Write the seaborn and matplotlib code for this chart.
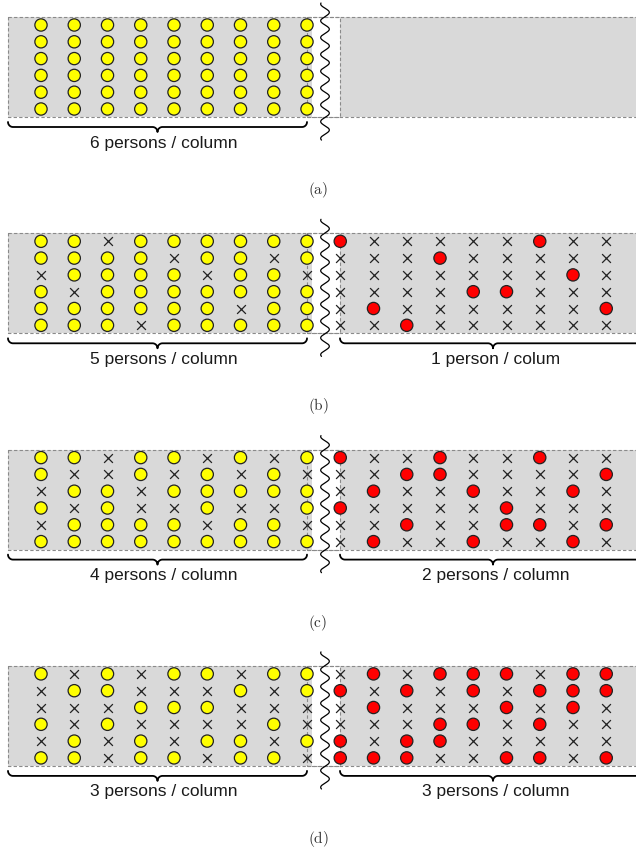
import numpy as np
import pandas as pd
import matplotlib
matplotlib.use("Agg")
import matplotlib.pyplot as plt
import seaborn as sns

sns.set_theme(style="white")
plt.rcParams['font.family'] = ['Liberation Sans', 'DejaVu Sans']
plt.rcParams['mathtext.fontset'] = 'cm'

# ---- data: 'o' = person present, 'x' = absent; rows top->bottom, 9 columns each
panel_labels = ["(a)", "(b)", "(c)", "(d)"]
left_texts = ["6 persons / column", "5 persons / column", "4 persons / column", "3 persons / column"]
right_texts = ["", "1 person / colum", "2 persons / column", "3 persons / column"]

left_a = ["ooooooooo", "ooooooooo", "ooooooooo", "ooooooooo", "ooooooooo", "ooooooooo"]
right_a = ["", "", "", "", "", ""]

left_b = ["ooxoooooo", "ooooxooxo", "xooooxoox", "oxooooooo", "ooooooxoo", "oooxooooo"]
right_b = ["oxxxxxoxx", "xxxoxxxxx", "xxxxxxxox", "xxxxooxxx", "xoxxxxxxo", "xxoxxxxxx"]

left_c = ["ooxooxoxo", "oxxoxoxox", "xooxooooo", "oxoxxoxxo", "xoooox oox".replace(" ", ""), "ooooooooo"]
right_c = ["oxxoxxoxx", "xxooxxxxo", "xoxxoxxox", "oxxxxoxxx", "xxoxxooxo", "xoxxoxxox"]

left_d = ["oxoxooxoo", "xooxxxoxo", "xxxoooxxx", "oxoxxxxox", "xoxoxooxo", "ooxooxoox"]
right_d = ["xoxoooxoo", "oxoxoxooo", "xoxxxoxox", "xxxooxoxx", "oxooxxxxx", "oooxxooxo"]

lefts = [left_a, left_b, left_c, left_d]
rights = [right_a, right_b, right_c, right_d]

# ---- geometry (layout, in grid units)
W, H, DPI = 636, 860, 100
col_px, row_px = 33.25, 16.8
x0_px, y0_px = 41, 25
panel_step = 216.3 / row_px  # rows between panel tops


def px2x(p):
    return (p - x0_px) / col_px


def px2y(p):
    return (p - y0_px) / row_px


records = []
for p, (L, R) in enumerate(zip(lefts, rights)):
    for r in range(6):
        for c, ch in enumerate(L[r]):
            records.append(dict(col=c, row=p * panel_step + r,
                                kind="yellow" if ch == "o" else "cross"))
        for c, ch in enumerate(R[r]):
            records.append(dict(col=9 + c, row=p * panel_step + r,
                                kind="red" if ch == "o" else "cross"))
df = pd.DataFrame(records)

fig = plt.figure(figsize=(W / DPI, H / DPI), dpi=DPI)
ax = fig.add_axes([0, 0, 1, 1])
ax.set_xlim(px2x(0), px2x(W))
ax.set_ylim(px2y(H), px2y(0))
ax.axis("off")


def brace(xa, xb, ytop_px):
    r = 5.0
    xc = (xa + xb) / 2
    ym = ytop_px + r
    t = np.linspace(0, np.pi / 2, 20)
    px, py = [], []
    px += list(xa + r - r * np.cos(t)); py += list(ytop_px + r * np.sin(t))
    px += list(xc - r + r * np.sin(t)); py += list(ym + r - r * np.cos(t))
    px += list(xc + r - r * np.cos(t)); py += list(ym + r - r * np.sin(t))
    px += list(xb - r + r * np.sin(t)); py += list(ytop_px + r * np.cos(t))
    ax.plot([px2x(a) for a in px], [px2y(b) for b in py], color="black",
            lw=1.3, zorder=4, solid_capstyle="round", solid_joinstyle="round")


gray = "#d9d9d9"
dash_col = "#8a8a8a"
for p in range(4):
    off = p * panel_step
    top, bot = off - 0.476, off + 5.476
    ax.fill_between([px2x(8), px2x(312)], top, bot, color=gray, lw=0, zorder=0)
    ax.fill_between([px2x(340), px2x(650)], top, bot, color=gray, lw=0, zorder=0)
    for (xa, xb) in [(8, 340), (307, 650)]:
        ax.plot([px2x(xa), px2x(xb), px2x(xb), px2x(xa), px2x(xa)],
                [top, top, bot, bot, top], ls=(0, (3, 2)), lw=0.8,
                color=dash_col, zorder=1)
    yy = np.linspace(off - 1.31, off + 6.85, 400)
    xx = px2x(325) + 0.13 * np.sin(2 * np.pi * (yy - off) / 1.0)
    ax.plot(xx, yy, color="black", lw=0.9, zorder=5)

    top_px = 17 + p * 216.3
    brace(8, 307, top_px + 105)
    ax.text(px2x(164), px2y(top_px + 126), left_texts[p], ha="center", va="center",
            fontsize=12.5, color="#1a1a1a")
    if right_texts[p]:
        brace(340, 646, top_px + 105)
        ax.text(px2x(496), px2y(top_px + 126), right_texts[p], ha="center",
                va="center", fontsize=12.5, color="#1a1a1a")
    ax.text(px2x(318), px2y(top_px + 173), r"$\mathrm{" + panel_labels[p] + "}$",
            ha="center", va="center", fontsize=11, color="#333333")

circ = df[df.kind != "cross"]
cross = df[df.kind == "cross"]
sns.scatterplot(data=circ, x="col", y="row", hue="kind",
                palette={"yellow": "#ffff00", "red": "#ff0000"},
                s=78, edgecolor="#222222", linewidth=0.9, legend=False,
                ax=ax, zorder=3)
sns.scatterplot(data=cross, x="col", y="row", marker="x", color="#222222",
                s=40, linewidth=0.9, legend=False, ax=ax, zorder=3)

ax.set_xlim(px2x(0), px2x(W))
ax.set_ylim(px2y(H), px2y(0))
ax.set_xlabel("")
ax.set_ylabel("")
fig.savefig("out.png", dpi=DPI)
